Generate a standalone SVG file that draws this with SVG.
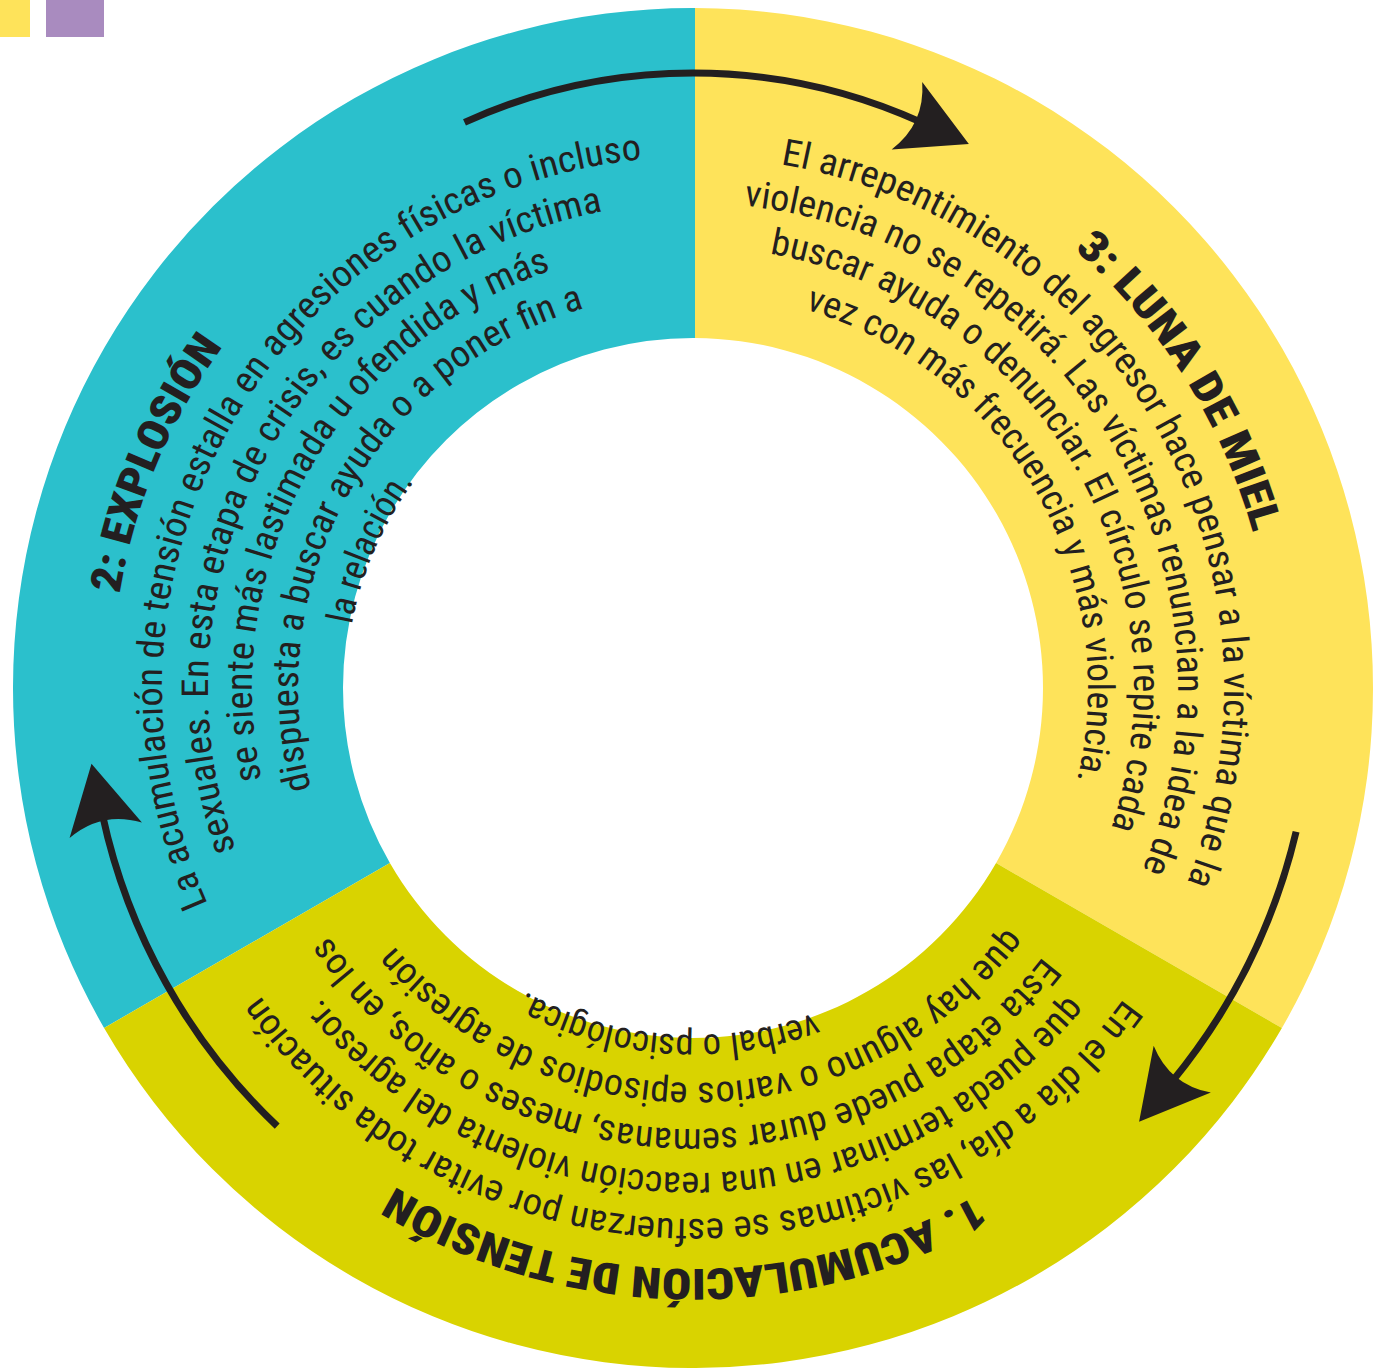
<svg xmlns="http://www.w3.org/2000/svg" width="1385" height="1368" viewBox="0 0 1385 1368">
<style>
.t{font-family:"Roboto Condensed","Liberation Sans Narrow",Roboto,"Liberation Sans",sans-serif;font-size:37px;fill:#231f20}
.h{font-weight:900;font-size:43px}
.arr{fill:none;stroke:#231f20;stroke-width:7;marker-end:url(#ah)}
</style>
<defs>
<marker id="ah" markerUnits="userSpaceOnUse" viewBox="-70 -40 80 80" refX="-48" refY="0" markerWidth="80" markerHeight="80" orient="auto">
<path d="M4,0 L-64,-37 Q-44,0 -64,37 Z" fill="#231f20"/>
</marker>
<path id="pT2" d="M119.6,594.1 A581,581 0 0 1 223.0,346.5"/>
<path id="pL1" d="M207.9,904.0 A531,531 0 0 1 642.1,159.4"/>
<path id="pL2" d="M235.8,849.9 A485,485 0 0 1 602.9,211.4"/>
<path id="pL3" d="M261.6,779.7 A441,441 0 0 1 550.9,270.5"/>
<path id="pL4" d="M311.1,788.9 A395,395 0 0 1 584.1,308.3"/>
<path id="pL5" d="M351.8,624.8 A347,347 0 0 1 414.1,481.6"/>
<path id="pT3" d="M1074.2,249.5 A581,581 0 0 1 1252.9,532.7"/>
<path id="pR1" d="M780.6,164.3 A531,531 0 0 1 1187.1,882.6"/>
<path id="pR2" d="M743.7,205.7 A485,485 0 0 1 1142.7,869.7"/>
<path id="pR3" d="M769.6,253.7 A441,441 0 0 1 1111.2,827.9"/>
<path id="pR4" d="M805.2,309.3 A395,395 0 0 1 1077.1,780.2"/>
<path id="pT1" d="M975.6,1195.7 A581,581 0 0 1 394.6,1186.5"/>
<path id="pB1" d="M1123.7,998.6 A531,531 0 0 1 260.2,995.6"/>
<path id="pB2" d="M1068.3,995.2 A485,485 0 0 1 319.8,997.8"/>
<path id="pB3" d="M1042.9,956.5 A441,441 0 0 1 328.3,935.9"/>
<path id="pB4" d="M1007.2,927.4 A395,395 0 0 1 394.0,946.1"/>
<path id="pB5" d="M814.5,1013.0 A347,347 0 0 1 524.8,991.5"/>
</defs>

<g id="legend-squares">
<rect x="0" y="0" width="30" height="37" fill="#fee35a"/>
<rect x="46" y="0" width="58" height="37" fill="#a98bbf"/>
</g>

<g id="node-explosion">
<path d="M104.1,1028 A680,680 0 0 1 695,8 L695,338 A350,350 0 0 0 389.9,863 Z" fill="#2bc0cc"/>
<text class="t h"><textPath href="#pT2" textLength="270.7" lengthAdjust="spacingAndGlyphs">2: EXPLOSIÓN</textPath></text>
<text class="t"><textPath href="#pL1" textLength="1005.5" lengthAdjust="spacingAndGlyphs">La acumulación de tensión estalla en agresiones físicas o incluso</textPath></text>
<text class="t"><textPath href="#pL2" textLength="836.3" lengthAdjust="spacingAndGlyphs">sexuales. En esta etapa de crisis, es cuando la víctima</textPath></text>
<text class="t"><textPath href="#pL3" textLength="640.4" lengthAdjust="spacingAndGlyphs">se siente más lastimada u ofendida y más</textPath></text>
<text class="t"><textPath href="#pL4" textLength="612.2" lengthAdjust="spacingAndGlyphs">dispuesta a buscar ayuda o a poner fin a</textPath></text>
</g>

<g id="node-luna">
<path d="M695,8 A680,680 0 0 1 1281.9,1028 L996.1,863 A350,350 0 0 0 695,338 Z" fill="#fee35a"/>
<text class="t h"><textPath href="#pT3" textLength="339.7" lengthAdjust="spacingAndGlyphs">3: LUNA DE MIEL</textPath></text>
<text class="t"><textPath href="#pR1" textLength="945.3" lengthAdjust="spacingAndGlyphs">El arrepentimiento del agresor hace pensar a la víctima que la</textPath></text>
<text class="t"><textPath href="#pR2" textLength="897.3" lengthAdjust="spacingAndGlyphs">violencia no se repetirá. Las víctimas renuncian a la idea de</textPath></text>
<text class="t"><textPath href="#pR3" textLength="758.1" lengthAdjust="spacingAndGlyphs">buscar ayuda o denunciar. El círculo se repite cada</textPath></text>
<text class="t"><textPath href="#pR4" textLength="599.8" lengthAdjust="spacingAndGlyphs">vez con más frecuencia y más violencia.</textPath></text>
</g>

<g id="node-acumulacion">
<path d="M1281.9,1028 A680,680 0 0 1 104.1,1028 L389.9,863 A350,350 0 0 0 996.1,863 Z" fill="#d9d300"/>
<text class="t h"><textPath href="#pT1" textLength="608.4" lengthAdjust="spacingAndGlyphs">1. ACUMULACIÓN DE TENSIÓN</textPath></text>
<text class="t"><textPath href="#pB1" textLength="1008.3" lengthAdjust="spacingAndGlyphs">En el día a día, las víctimas se esfuerzan por evitar toda situación</textPath></text>
<text class="t"><textPath href="#pB2" textLength="854.9" lengthAdjust="spacingAndGlyphs">que pueda terminar en una reacción violenta del agresor.</textPath></text>
<text class="t"><textPath href="#pB3" textLength="833.6" lengthAdjust="spacingAndGlyphs">Esta etapa puede durar semanas, meses o años, en los</textPath></text>
<text class="t"><textPath href="#pB4" textLength="702.5" lengthAdjust="spacingAndGlyphs">que hay alguno o varios episodios de agresión</textPath></text>
<text class="t"><textPath href="#pB5" textLength="299.8" lengthAdjust="spacingAndGlyphs">verbal o psicológica.</textPath></text>
</g>

<g id="overflow-text">
<text class="t"><textPath href="#pL5" textLength="157.5" lengthAdjust="spacingAndGlyphs">la relación.</textPath></text>
</g>

<g id="connectors">
<path class="arr" d="M464.5,122.4 A553,553 0 0 1 921.5,122.4"/>
<path class="arr" d="M1296.1,831.7 A620,620 0 0 1 1172.1,1081.5"/>
<path class="arr" d="M277.2,1126.1 A604,604 0 0 1 102.4,814.6"/>
</g>
</svg>
